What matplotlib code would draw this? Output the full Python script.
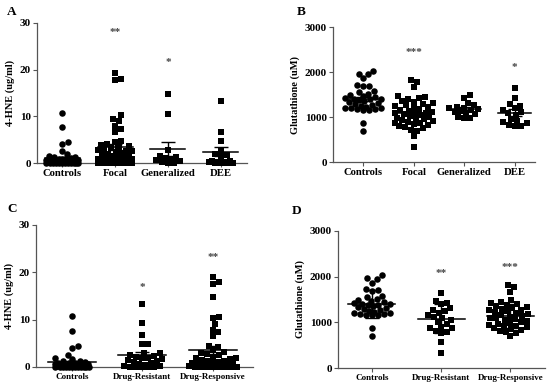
import numpy as np
import matplotlib
matplotlib.use("Agg")
import matplotlib.pyplot as plt

plt.rcParams['font.family'] = ['Liberation Serif', 'DejaVu Serif']
plt.rcParams['font.weight'] = 'bold'

# ---- data ----
groups_ab = ["Controls", "Focal", "Generalized", "DEE"]
groups_cd = ["Controls", "Drug-Resistant", "Drug-Responsive"]

hne_controls = [10.7, 7.7, 4.5, 4.1, 2.5, 1.9, 1.6, 1.3, 1.2, 1.0, 0.9, 0.8, 0.8, 0.7,
                0.6, 0.5, 0.5, 0.4, 0.4, 0.3, 0.3, 0.2, 0.2, 0.2, 0.1, 0.1, 0.1, 0.1,
                0.0, 0.0, 0.0, 0.0, 0.0, 0.0, 0.0, 0.0]
hne_focal = [19.3, 18.0, 17.7, 10.2, 9.4, 9.0, 7.9, 7.2, 6.6, 4.8, 4.4, 4.0, 3.8, 3.6,
             3.4, 3.2, 3.0, 2.8, 2.6, 2.5, 2.3, 2.1, 2.0, 1.8, 1.6, 1.5, 1.3, 1.2, 1.0,
             0.9, 0.8, 0.7, 0.6, 0.5, 0.4, 0.4, 0.3, 0.3, 0.2, 0.2, 0.1, 0.1, 0.1,
             0.0, 0.0, 0.0, 0.0, 0.0, 0.0, 0.0]
hne_generalized = [14.8, 10.6, 2.8, 1.5, 1.3, 1.0, 0.8, 0.6, 0.4, 0.2, 0.1, 0.0]
hne_dee = [13.3, 6.7, 4.8, 2.8, 2.0, 1.8, 1.5, 0.5, 0.4, 0.3, 0.2, 0.2, 0.1, 0.1, 0.0, 0.0]
hne_resistant = [13.3, 9.4, 6.8, 4.8, 4.8, 3.0, 2.9, 2.6, 2.4, 2.2, 2.0, 1.8, 1.6, 1.4,
                 1.2, 1.0, 0.8, 0.6, 0.5, 0.3, 0.2, 0.1, 0.1, 0.0, 0.0, 0.0]
hne_responsive = [19.0, 17.9, 17.6, 14.8, 10.6, 10.3, 9.1, 7.9, 7.3, 6.6, 4.5, 4.2, 3.5,
                  3.2, 3.0, 2.8, 2.5, 2.2, 2.0, 1.8, 1.6, 1.5, 1.3, 1.2, 1.0, 0.9, 0.8,
                  0.7, 0.6, 0.5, 0.4, 0.3, 0.3, 0.2, 0.2, 0.1, 0.1, 0.0, 0.0, 0.0, 0.0,
                  0.0, 0.0]

gsh_controls = [2030, 1960, 1950, 1870, 1720, 1700, 1690, 1580, 1560, 1520, 1490, 1460,
                1440, 1420, 1410, 1400, 1390, 1370, 1350, 1330, 1310, 1290, 1270, 1250,
                1230, 1210, 1200, 1190, 1180, 1170, 1160, 1150, 870, 700]
gsh_focal = [1820, 1770, 1660, 1470, 1440, 1420, 1390, 1360, 1340, 1310, 1290, 1260,
             1240, 1220, 1200, 1180, 1160, 1140, 1120, 1100, 1090, 1080, 1060, 1040,
             1020, 1000, 980, 960, 950, 930, 910, 890, 870, 860, 840, 820, 800, 780,
             750, 720, 700, 580, 340]
gsh_generalized = [1480, 1420, 1310, 1260, 1230, 1210, 1190, 1180, 1160, 1140, 1120,
                   1100, 1060, 1010, 980, 970]
gsh_dee = [1640, 1420, 1280, 1250, 1190, 1160, 1110, 1080, 1050, 960, 910, 890, 860,
           830, 810, 800]
gsh_resistant = [1640, 1460, 1430, 1400, 1310, 1270, 1250, 1210, 1160, 1120, 1100, 1060,
                 1010, 960, 900, 880, 870, 820, 790, 760, 580, 330]
gsh_responsive = [1820, 1770, 1660, 1480, 1450, 1420, 1400, 1380, 1360, 1340, 1320, 1300,
                  1280, 1260, 1240, 1220, 1200, 1180, 1160, 1140, 1120, 1100, 1090, 1070,
                  1050, 1030, 1010, 990, 970, 950, 930, 910, 890, 870, 850, 830, 810, 790,
                  760, 700]

mean_a = [1.0, 3.4, 2.9, 2.4]
err_a = [0.3, 0.7, 1.5, 1.0]
mean_b = [1400, 1080, 1180, 1100]
err_b = [50, 45, 40, 70]
mean_c = [1.0, 2.5, 3.6]
err_c = [0.3, 0.7, 0.8]
mean_d = [1400, 1080, 1140]
err_d = [300, 320, 270]

stars_a = {1: ("**", 27.9), 2: ("*", 21.6)}
stars_b = {1: ("***", 2440), 3: ("*", 2090)}
stars_c = {1: ("*", 16.9), 2: ("**", 23.2)}
stars_d = {1: ("**", 2060), 2: ("***", 2210)}

W, H = 550, 390


def swarm(values, px_x, px_y, diam, max_half):
    # simple beeswarm: place each point as close to the centre as possible
    vals = np.asarray(values, float)
    offs = np.zeros(len(vals))
    placed = []
    steps = np.arange(0, max_half + 0.01, 0.5)
    cands = [0.0]
    for s in steps[1:]:
        cands += [s, -s]
    for i in np.argsort(vals):
        y = vals[i] * px_y
        best, bestd = 0.0, -1
        chosen = None
        for c in cands:
            if placed:
                p = np.array(placed)
                d = np.min(np.hypot(p[:, 0] - c, p[:, 1] - y))
            else:
                d = np.inf
            if d >= diam:
                chosen = c
                break
            if d > bestd:
                best, bestd = c, d
        if chosen is None:
            chosen = best
        placed.append((chosen, y))
        offs[i] = chosen / px_x
    return offs


def panel(rect, data, labels, means, errs, stars, xlim, ylim, yticks, ylabel,
          letter, letter_pos, xfs, max_half, mhalf, chalf):
    ax = fig.add_axes([rect[0] / W, 1 - (rect[1] + rect[3]) / H, rect[2] / W, rect[3] / H])
    ax.set_xlim(*xlim)
    ax.set_ylim(*ylim)
    px_x = rect[2] / (xlim[1] - xlim[0])
    px_y = rect[3] / (ylim[1] - ylim[0])
    for i, vals in enumerate(data):
        mk = 'o' if i == 0 else 's'
        offs = swarm(vals, px_x, px_y, 6.0, max_half[i])
        ax.scatter(i + offs, vals, marker=mk, s=22, color='black', linewidths=0,
                   clip_on=False, zorder=3)
        ax.plot([i - mhalf, i + mhalf], [means[i]] * 2, color='black', lw=1.1, zorder=4)
        ax.errorbar(i, means[i], yerr=errs[i], fmt='none', ecolor='black',
                    elinewidth=1.0, capsize=chalf, capthick=1.0, zorder=4)
    for i, (txt, yv) in stars.items():
        ax.text(i, yv, txt, ha='center', va='center', fontsize=8, color='#444444')
    ax.set_xticks(range(len(labels)))
    ax.set_xticklabels(labels, fontsize=xfs, fontweight='bold')
    ax.set_yticks(yticks)
    ax.set_yticklabels([str(t) for t in yticks], fontsize=8, fontweight='bold')
    ax.set_ylabel(ylabel, fontsize=7.5, fontweight='bold', labelpad=3)
    for s in ['top', 'right']:
        ax.spines[s].set_visible(False)
    for s in ['left', 'bottom']:
        ax.spines[s].set_color('#555555')
        ax.spines[s].set_linewidth(0.9)
    ax.tick_params(axis='both', length=3, width=0.8, color='#555555', pad=1.5)
    fig.text(letter_pos[0] / W, 1 - letter_pos[1] / H, letter, fontsize=9.5,
             fontweight='bold', ha='left', va='center')
    return ax


fig = plt.figure(figsize=(5.5, 3.9), dpi=100)

panel((37, 23, 210, 140), [hne_controls, hne_focal, hne_generalized, hne_dee],
      groups_ab, mean_a, err_a, stars_a, (-0.48, 3.5), (0, 30), [0, 10, 20, 30],
      "4-HNE (ug/ml)", "A", (7, 12), 7.7, [16, 17, 14, 14], 0.33, 5)
panel((333, 27, 202, 135), [gsh_controls, gsh_focal, gsh_generalized, gsh_dee],
      groups_ab, mean_b, err_b, stars_b, (-0.6, 3.4), (0, 3000),
      [0, 1000, 2000, 3000], "Glutathione (uM)", "B", (297, 12), 7.7,
      [18, 19, 15, 14], 0.33, 5)
panel((36, 225, 217, 142), [hne_controls, hne_resistant, hne_responsive],
      groups_cd, mean_c, err_c, stars_c, (-0.51, 2.57), (0, 30), [0, 10, 20, 30],
      "4-HNE (ug/ml)", "C", (7, 209), 6.5, [17, 20, 24], 0.34, 5)
panel((338, 231, 207, 137), [gsh_controls, gsh_resistant, gsh_responsive],
      groups_cd, mean_d, err_d, stars_d, (-0.49, 2.5), (0, 3000),
      [0, 1000, 2000, 3000], "Glutathione (uM)", "D", (292, 211), 6.5,
      [18, 19, 21], 0.34, 5)

fig.savefig("out.png", dpi=100)
